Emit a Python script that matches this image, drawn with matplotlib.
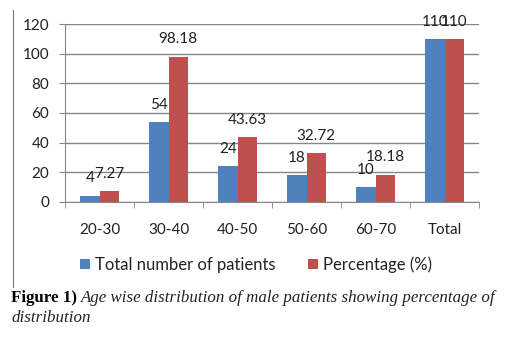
import numpy as np
import matplotlib
matplotlib.use("Agg")
import matplotlib.pyplot as plt
from matplotlib.lines import Line2D

# data
groups = ["20-30", "30-40", "40-50", "50-60", "60-70", "Total"]
patients = [4, 54, 24, 18, 10, 110]
percent = [7.27, 98.18, 43.63, 32.72, 18.18, 110]
pat_labels = ["4", "54", "24", "18", "10", "110"]
pct_labels = ["7.27", "98.18", "43.63", "32.72", "18.18", "110"]

blue = "#4F81BD"
red = "#C0504D"
grid_c = "#868686"
fs = 11

plt.rcParams['font.family'] = ['Lato', 'DejaVu Sans']

fig = plt.figure(figsize=(5.12, 3.40), dpi=100)
ax = fig.add_axes([0.127, 0.4068, 0.8086, 0.5217])

x = np.arange(len(groups))
w = 0.283
ax.bar(x - w/2, patients, w, color=blue, label="Total number of patients", zorder=3)
ax.bar(x + w/2, percent, w, color=red, label="Percentage (%)", zorder=3)

for i in range(len(groups)):
    ax.annotate(pat_labels[i], (x[i] - w/2, patients[i]), xytext=(0, 12.5),
                textcoords="offset points", ha="center", va="center", fontsize=fs, color="#222222")
    ax.annotate(pct_labels[i], (x[i] + w/2, percent[i]), xytext=(0, 12.5),
                textcoords="offset points", ha="center", va="center", fontsize=fs, color="#222222")

ax.set_xlim(-0.5, len(groups) - 0.5)
ax.set_ylim(0, 120)
ax.set_yticks(range(0, 121, 20))
ax.yaxis.grid(True, color=grid_c, linewidth=1.0, zorder=0)
ax.set_axisbelow(True)

ax.set_xticks(x)
ax.set_xticklabels(groups)
ax.set_xticks(np.arange(-0.5, len(groups), 1), minor=True)
ax.tick_params(axis="x", which="major", length=0, pad=15, labelsize=fs, colors="#222222")
ax.tick_params(axis="x", which="minor", length=4, color=grid_c, direction="out")
ax.tick_params(axis="y", length=4.5, color=grid_c, pad=7, labelsize=fs, labelcolor="#222222")

for s in ["top", "right"]:
    ax.spines[s].set_visible(False)
ax.spines["left"].set_color(grid_c)
ax.spines["bottom"].set_color(grid_c)

fig.legend(loc="center", bbox_to_anchor=(0.5, 1 - 265/340), ncol=2, frameon=False,
           fontsize=12, handlelength=0.55, handleheight=0.55, handletextpad=0.3,
           columnspacing=2.0, labelcolor="#222222")

# left border line of the figure panel
fig.add_artist(Line2D([13/512, 13/512], [1 - 10/340, 1 - 287/340], color="#777777", linewidth=0.8))

# caption
fig.canvas.draw()
r = fig.canvas.get_renderer()
t1 = fig.text(11/512, 1 - 298/340, "Figure 1)", fontsize=12.2, fontweight="bold",
              family="Liberation Serif", va="center", color="black")
bb = t1.get_window_extent(r)
fig.text(bb.x1/512 + 4/512, 1 - 298/340,
         "Age wise distribution of male patients showing percentage of",
         fontsize=12.2, style="italic", family="Liberation Serif", va="center", color="#222222")
fig.text(11/512, 1 - 318/340, "distribution", fontsize=12.2, style="italic",
         family="Liberation Serif", va="center", color="#222222")

fig.savefig("out.png", dpi=100)
